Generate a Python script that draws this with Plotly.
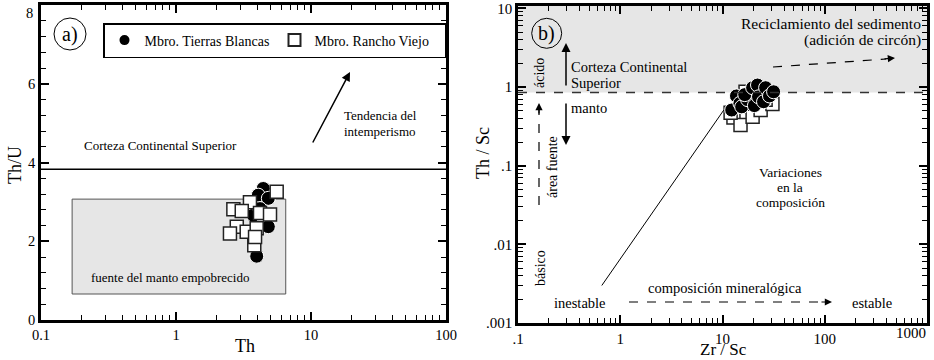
import numpy as np
import plotly.graph_objects as go

# ---------------- data ----------------
# Panel a: Th vs Th/U
tb_th = [3.96, 4.43, 4.07, 4.83, 3.74, 4.83, 4.19]
tb_thu = [1.62, 3.34, 3.17, 3.09, 2.66, 2.37, 2.83]
rv_th = [5.57, 3.53, 2.66, 3.07, 4.19, 4.97, 2.82, 2.51, 3.34, 3.96, 3.80, 3.85]
rv_thu = [3.26, 2.99, 2.81, 2.77, 2.72, 2.68, 2.37, 2.20, 2.24, 2.33, 1.90, 2.11]

# Panel b: Zr/Sc vs Th/Sc
tb_zrsc = [12.3, 13.7, 14.8, 15.4, 17.6, 16.5, 19.7, 22.0, 20.5, 22.5, 25.2, 26.4, 28.8, 31.6]
tb_thsc = [0.51, 0.77, 0.62, 0.56, 0.69, 0.80, 0.98, 1.06, 0.58, 0.75, 0.65, 0.98, 0.77, 0.87]
rv_zrsc = [12.8, 15.0, 19.7, 23.6, 30.8, 16.8, 26.4, 19.7, 12.0]
rv_thsc = [0.41, 0.33, 0.42, 0.51, 0.61, 0.87, 0.69, 0.69, 0.47]

# reference values
ucc_thu = 3.83
ucc_thsc = 0.85
depleted_box_th = [0.17, 6.5]
depleted_box_thu = [0.66, 3.07]
trend_zrsc = [0.66, 10.3]
trend_thsc = [0.003, 0.51]

x_ticks_a = [0.1, 1, 10, 100]
x_ticktext_a = ["0.1", "1", "10", "100"]
y_ticks_a = [0, 2, 4, 6, 8]
y_ticktext_a = ["0", "2", "4", "6", ""]   # "8" drawn separately, nudged inside the page
x_ticks_b = [0.1, 1, 10, 100, 1000]
x_ticktext_b = [".1", "1", "10", "100", ""]  # "1000" drawn separately, nudged inside the page
y_ticks_b = [0.001, 0.01, 0.1, 1, 10]
y_ticktext_b = [".001", ".01", ".1", "1", "10"]

# ---------------- figure ----------------
W, H = 934, 360
FONT = "Liberation Serif, Times New Roman, serif"


def px(x):
    return x / W


def py(y):
    return 1 - y / H


def minor_log(lo, hi):
    vals = []
    for e in range(lo, hi + 1):
        for k in range(2, 10):
            vals.append(k * 10.0 ** e)
    return vals


fig = go.Figure()

fig.add_trace(go.Scatter(
    x=tb_th, y=tb_thu, mode="markers", name="Mbro. Tierras Blancas",
    marker=dict(symbol="circle", size=14, color="black", line=dict(color="white", width=1)),
    xaxis="x", yaxis="y"))
fig.add_trace(go.Scatter(
    x=rv_th, y=rv_thu, mode="markers", name="Mbro. Rancho Viejo",
    marker=dict(symbol="square", size=13, color="white", line=dict(color="#222", width=1.5)),
    xaxis="x", yaxis="y"))

fig.add_trace(go.Scatter(
    x=rv_zrsc, y=rv_thsc, mode="markers", showlegend=False,
    marker=dict(symbol="square", size=13, color="white", line=dict(color="#222", width=1.5)),
    xaxis="x2", yaxis="y2"))
fig.add_trace(go.Scatter(
    x=tb_zrsc, y=tb_thsc, mode="markers", showlegend=False,
    marker=dict(symbol="circle", size=14, color="black", line=dict(color="white", width=1)),
    xaxis="x2", yaxis="y2"))

axis_common = dict(
    showline=True, linecolor="black", linewidth=2.5, mirror="allticks",
    ticks="inside", ticklen=8, tickwidth=1.5, tickcolor="black",
    showgrid=False, zeroline=False, automargin=False,
    tickfont=dict(family=FONT, size=14.5, color="black"),
)
minor_common = dict(ticks="inside", ticklen=5, tickwidth=1, tickcolor="black")

fig.update_layout(
    width=W, height=H,
    margin=dict(l=0, r=0, t=0, b=0, pad=0),
    paper_bgcolor="white", plot_bgcolor="white",
    font=dict(family=FONT, color="black"),
    xaxis=dict(
        axis_common, type="log", range=[-1, 2], domain=[px(41), px(446)], anchor="y",
        tickvals=x_ticks_a, ticktext=x_ticktext_a,
        minor=dict(minor_common, tickvals=minor_log(-1, 1)),
    ),
    yaxis=dict(
        axis_common, range=[0, 8], domain=[py(320), py(5)], anchor="x",
        tickvals=y_ticks_a, ticktext=y_ticktext_a,
        minor=dict(minor_common, dtick=0.4, tick0=0),
    ),
    xaxis2=dict(
        axis_common, type="log", range=[-1, 3], domain=[px(518), px(927)], anchor="y2",
        tickvals=x_ticks_b, ticktext=x_ticktext_b,
        tickfont=dict(family=FONT, size=15, color="black"),
        minor=dict(minor_common, tickvals=minor_log(-1, 2)),
    ),
    yaxis2=dict(
        axis_common, type="log", range=[-3, 1.03], domain=[py(323), py(6)], anchor="x2",
        tickvals=y_ticks_b, ticktext=y_ticktext_b,
        tickfont=dict(family=FONT, size=15, color="black"),
        minor=dict(minor_common, tickvals=minor_log(-3, 0)),
    ),
    legend=dict(
        orientation="h", x=px(103), y=py(23), xanchor="left", yanchor="top",
        bgcolor="white", bordercolor="black", borderwidth=1.5,
        font=dict(family=FONT, size=14, color="black"),
        entrywidth=125, entrywidthmode="pixels", itemsizing="constant",
        tracegroupgap=0, itemwidth=30,
    ),
)

shapes = []
# panel a: depleted mantle box
shapes.append(dict(type="rect", xref="x", yref="y",
                   x0=depleted_box_th[0], x1=depleted_box_th[1],
                   y0=depleted_box_thu[0], y1=depleted_box_thu[1],
                   fillcolor="#e6e6e6", line=dict(color="#555", width=1), layer="below"))
# panel a: UCC line
shapes.append(dict(type="line", xref="x domain", yref="y", x0=0, x1=1, y0=ucc_thu, y1=ucc_thu,
                   line=dict(color="black", width=1.5)))
# panel b: gray upper region
shapes.append(dict(type="rect", xref="x2 domain", yref="y2", x0=0, x1=1,
                   y0=ucc_thsc, y1=10 ** 1.03, fillcolor="#e6e6e6", line=dict(width=0), layer="below"))
shapes.append(dict(type="line", xref="x2 domain", yref="y2", x0=0, x1=1, y0=ucc_thsc, y1=ucc_thsc,
                   line=dict(color="#333", width=1.5, dash="dash")))
# panel b: trend line
shapes.append(dict(type="line", xref="x2", yref="y2", x0=trend_zrsc[0], x1=trend_zrsc[1],
                   y0=trend_thsc[0], y1=trend_thsc[1], line=dict(color="black", width=1)))
# circles for (a) and (b)
for cx, cy, r in [(70, 34, 16), (546.7, 33.3, 15)]:
    shapes.append(dict(type="circle", xref="paper", yref="paper",
                       x0=px(cx - r), x1=px(cx + r), y0=py(cy + r), y1=py(cy - r),
                       line=dict(color="black", width=1)))
# dashed arrow shafts (panel b)
for (x0, y0, x1, y1) in [(539, 205, 539, 110), (773, 67, 886, 59), (629, 302, 824, 302)]:
    shapes.append(dict(type="line", xref="paper", yref="paper",
                       x0=px(x0), y0=py(y0), x1=px(x1), y1=py(y1),
                       line=dict(color="black", width=1.2, dash="dash")))
fig.update_layout(shapes=shapes)


def txt(x, y, s, size=13, xanchor="center", angle=0, yanchor="middle"):
    fig.add_annotation(x=px(x), y=py(y), xref="paper", yref="paper", text=s,
                       showarrow=False, xanchor=xanchor, yanchor=yanchor, textangle=angle,
                       borderpad=0,
                       font=dict(family=FONT, size=size, color="black"))


def arrow(x0, y0, x1, y1, width=1.5, size=1.2):
    fig.add_annotation(x=px(x1), y=py(y1), xref="paper", yref="paper", text="",
                       showarrow=True, ax=x0 - x1, ay=y0 - y1, axref="pixel", ayref="pixel",
                       arrowhead=2, arrowsize=size, arrowwidth=width, arrowcolor="black")


# edge tick labels kept inside the page
txt(34, 13, "8", 14.5, xanchor="right")
txt(911, 333, "1000", 15)

# axis titles
txt(245, 346, "Th", 18)
txt(723, 360, "Zr / Sc", 17, yanchor="bottom")
txt(15, 165, "Th/U", 18, angle=-90)
txt(483, 153, "Th / Sc", 18, angle=-90)

# panel a texts
txt(70, 34, "a)", size=20)
txt(160, 145, "Corteza Continental Superior", 13)
txt(343, 116, "Tendencia del", 13, xanchor="left")
txt(343, 131, "intemperismo", 13, xanchor="left")
txt(170, 277, "fuente del manto empobrecido", 13)
arrow(312, 144, 350, 72)

# panel b texts
txt(546.7, 33.3, "b)", size=20)
txt(922, 23, "Reciclamiento del sedimento", 15.5, xanchor="right")
txt(922, 40, "(adición de circón)", 15.5, xanchor="right")
txt(570, 67, "Corteza Continental", 14.5, xanchor="left")
txt(570, 83, "Superior", 14.5, xanchor="left")
txt(570, 108, "manto", 14.5, xanchor="left")
txt(540, 73, "ácido", 14, angle=-90)
txt(552, 167, "área fuente", 14, angle=-90)
txt(540, 268, "básico", 14, angle=-90)
txt(790, 172, "Variaciones", 13.5)
txt(790, 187, "en la", 13.5)
txt(790, 202, "composición", 13.5)
txt(725, 288, "composición mineralógica", 14.5)
txt(580, 303, "inestable", 14.5)
txt(872, 303, "estable", 14.5)
arrow(566, 87, 566, 43)
arrow(566, 102, 566, 145)
# dashed arrow heads
arrow(539, 115, 539, 103, width=1.2)
arrow(883, 59, 895, 58, width=1.2)
arrow(820, 302, 832, 302, width=1.2)

fig.write_html("out.html", config={"displayModeBar": False},
               post_script="document.body.style.margin='0px';")
